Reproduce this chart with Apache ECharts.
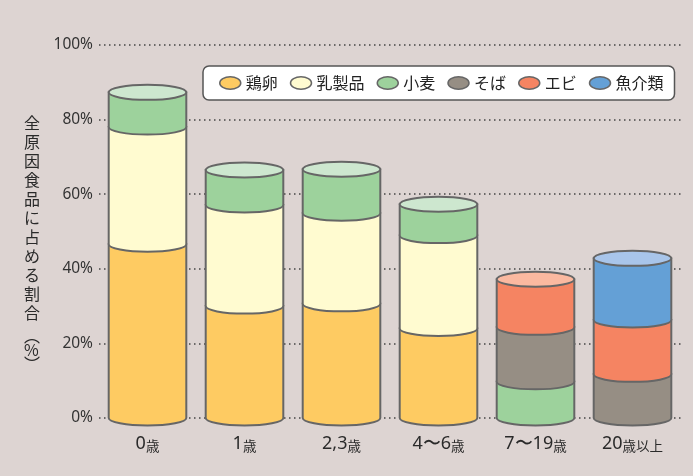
<!DOCTYPE html>
<html><head><meta charset="utf-8">
<script src="https://cdn.jsdelivr.net/npm/echarts@6/dist/echarts.min.js"></script>
<style>html,body{margin:0;padding:0;background:#ddd4d2;}#c{width:693px;height:476px;}</style>
</head><body><div id="c"></div>
<script>
const categories = ['0', '1', '2,3', '4〜6', '7〜19', '20'];
const categorySuffix = ['歳', '歳', '歳', '歳', '歳', '歳以上'];
const seriesNames = ['鶏卵', '乳製品', '小麦', 'そば', 'エビ', '魚介類'];
const egg    = [46.6, 30.0, 30.6, 24.0, 0, 0];
const dairy  = [31.4, 27.1, 24.3, 24.9, 0, 0];
const wheat  = [9.3, 9.4, 11.8, 8.4, 9.7, 0];
const soba   = [0, 0, 0, 0, 14.6, 11.7];
const shrimp = [0, 0, 0, 0, 12.9, 14.6];
const fish   = [0, 0, 0, 0, 0, 16.5];
const yTicks = [0, 20, 40, 60, 80, 100];

const seriesValues = [egg, dairy, wheat, soba, shrimp, fish];
const colors = ['#fecb62', '#fffbd0', '#9dd29c', '#968e84', '#f58462', '#64a0d6'];
const topColors = ['#ffe2a6', '#fffde9', '#cde7cf', '#c4beb6', '#fbb9a0', '#a8c5ea'];
const STROKE = '#666666';

const chart = echarts.init(document.getElementById('c'));

// build stacked data [catIndex, base, top, isTop]
const bases = categories.map(() => 0);
const totals = categories.map((_, i) => seriesValues.reduce((s, arr) => s + arr[i], 0));
const seriesList = seriesValues.map((vals, si) => {
  const data = [];
  vals.forEach((v, i) => {
    if (v > 0) {
      const b = bases[i];
      const t = b + v;
      data.push([i, b, t, Math.abs(t - totals[i]) < 1e-6 ? 1 : 0]);
      bases[i] = t;
    }
  });
  return {
    name: seriesNames[si],
    type: 'custom',
    itemStyle: { color: colors[si] },
    encode: { x: 0, y: [1, 2] },
    data: data,
    renderItem: function (params, api) {
      const ci = api.value(0);
      const p0 = api.coord([ci, api.value(1)]);
      const p1 = api.coord([ci, api.value(2)]);
      const w = api.size([1, 0])[0] * 0.8;
      const rx = w / 2, ry = 7.5;
      const x = p0[0], yb = p0[1], yt = p1[1];
      const path = 'M' + (x - rx) + ',' + yt + ' L' + (x - rx) + ',' + yb +
        ' A' + rx + ',' + ry + ' 0 0,0 ' + (x + rx) + ',' + yb +
        ' L' + (x + rx) + ',' + yt + ' Z';
      const children = [{
        type: 'path',
        shape: { pathData: path },
        style: { fill: colors[si], stroke: STROKE, lineWidth: 2 }
      }];
      if (api.value(3) === 1) {
        children.push({
          type: 'ellipse',
          shape: { cx: x, cy: yt, rx: rx, ry: ry },
          style: { fill: topColors[si], stroke: STROKE, lineWidth: 2 }
        });
      }
      return { type: 'group', children: children };
    }
  };
});

const option = {
  backgroundColor: '#ddd4d2',
  animation: false,
  textStyle: { fontFamily: '"Noto Sans CJK JP", "Noto Sans", sans-serif' },
  grid: { left: 99, right: 12, top: 45, bottom: 58 },
  legend: {
    left: 203, top: 66,
    padding: [9, 11, 9, 16],
    itemGap: 12,
    itemWidth: 21, itemHeight: 13,
    icon: 'path://M0,6a10,6 0 1,0 20,0a10,6 0 1,0 -20,0z',
    backgroundColor: '#ffffff',
    borderColor: '#555555', borderWidth: 1.5, borderRadius: 6,
    itemStyle: { borderColor: '#666666', borderWidth: 1.5 },
    textStyle: { fontSize: 16, color: '#222', fontFamily: '"Noto Sans CJK JP", sans-serif' },
    data: seriesNames
  },
  xAxis: {
    type: 'category',
    data: categories,
    axisLine: { show: false },
    axisTick: { show: false },
    axisLabel: {
      interval: 0,
      margin: 17,
      formatter: function (v, i) { return '{n|' + v + '}{s|' + categorySuffix[i] + '}'; },
      rich: {
        n: { fontSize: 18, color: '#2a2a2a', fontFamily: '"Noto Sans", sans-serif' },
        s: { fontSize: 13.5, color: '#2a2a2a', fontFamily: '"Noto Sans CJK JP", sans-serif', padding: [3, 0, 0, 0] }
      }
    }
  },
  yAxis: {
    type: 'value',
    min: yTicks[0], max: yTicks[yTicks.length - 1], interval: 20,
    axisLine: { show: false },
    axisTick: { show: false },
    axisLabel: { formatter: '{value}%', fontSize: 15.5, color: '#333', margin: 6, fontFamily: '"Noto Sans", sans-serif' },
    splitLine: { lineStyle: { color: '#444', width: 1.5, type: [1.5, 3.5] } }
  },
  graphic: [
    {
      type: 'text', left: 24, top: 113,
      style: {
        text: '全\n原\n因\n食\n品\nに\n占\nめ\nる\n割\n合',
        font: '16px "Noto Sans CJK JP"', fill: '#2a2a2a', lineHeight: 19, align: 'center'
      }
    },
    {
      type: 'text', left: 24, top: 328,
      style: {
        text: '︵\n%\n︶',
        font: '16px "Noto Sans CJK JP"', fill: '#2a2a2a', lineHeight: 14, align: 'center'
      }
    }
  ],
  series: seriesList
};
chart.setOption(option);
</script>
</body></html>
